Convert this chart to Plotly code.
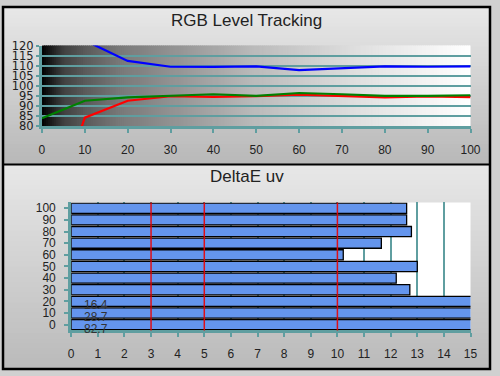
import plotly.graph_objects as go

# ---------------- data ----------------
levels = [0, 10, 20, 30, 40, 50, 60, 70, 80, 90, 100]
red_vals = [23.0, 84.3, 92.7, 94.9, 94.6, 94.9, 95.7, 95.1, 94.3, 94.8, 94.5]
green_vals = [84.0, 92.7, 94.3, 95.1, 95.9, 95.1, 96.5, 95.9, 95.1, 95.1, 95.4]
blue_vals = [135.0, 122.5, 112.4, 109.5, 109.4, 109.7, 107.8, 108.9, 109.7, 109.5, 109.7]

de_levels = [0, 10, 20, 30, 40, 50, 60, 70, 80, 90, 100]
de_vals = [82.7, 28.7, 16.4, 12.72, 12.21, 13.0, 10.22, 11.65, 12.78, 12.6, 12.6]
de_labels = {0: "82.7", 10: "28.7", 20: "16.4"}
threshold_lines = [3, 5, 10]

W, H = 500, 376
FONT = "Liberation Sans, Arial, sans-serif"
TEAL = "#5f9ea0"

def px_x(p):
    return p / W

def px_y(p):
    return 1 - p / H

def lerp(c1, c2, t):
    return tuple(int(round(a + (b - a) * t)) for a, b in zip(c1, c2))

def rgb(c):
    return "rgb(%d,%d,%d)" % c

fig = go.Figure()

# ---------------- traces ----------------
fig.add_trace(go.Scatter(x=levels, y=blue_vals, mode="lines",
                         line=dict(color="#0000ff", width=2.2), xaxis="x", yaxis="y",
                         showlegend=False, hoverinfo="skip"))
fig.add_trace(go.Scatter(x=levels, y=red_vals, mode="lines",
                         line=dict(color="#ff0000", width=2.2), xaxis="x", yaxis="y",
                         showlegend=False, hoverinfo="skip"))
fig.add_trace(go.Scatter(x=levels, y=green_vals, mode="lines",
                         line=dict(color="#008000", width=2.2), xaxis="x", yaxis="y",
                         showlegend=False, hoverinfo="skip"))

fig.add_trace(go.Bar(x=de_vals, y=de_levels, orientation="h",
                     marker=dict(color="#6495ed", line=dict(color="black", width=1.3)),
                     xaxis="x2", yaxis="y2", showlegend=False, hoverinfo="skip"))

shapes = []
# panel background gradients (paper)
def panel(y0, y1, ctop, cbot, n=40):
    for i in range(n):
        a = y0 + (y1 - y0) * i / n
        b = y0 + (y1 - y0) * (i + 1) / n
        c = lerp(ctop, cbot, (i + 0.5) / n)
        shapes.append(dict(type="rect", xref="paper", yref="paper",
                           x0=0, x1=1, y0=max(0, px_y(b) - 0.002), y1=px_y(a),
                           fillcolor=rgb(c), line=dict(width=0), layer="below"))

panel(0, 163, (232, 232, 232), (184, 184, 184))
panel(163, 376, (232, 232, 232), (186, 186, 186))

# top plot horizontal gradient black -> white
stops = [(0.0, 0), (0.05, 64), (0.1, 90), (0.18, 120), (0.5, 187), (0.75, 225), (1.0, 255)]
def gray_at(t):
    for (t0, g0), (t1, g1) in zip(stops[:-1], stops[1:]):
        if t0 <= t <= t1:
            return g0 + (g1 - g0) * (t - t0) / (t1 - t0)
    return 255

N = 220
for i in range(N):
    t0 = i / N
    t1 = (i + 1) / N
    g = int(round(gray_at((t0 + t1) / 2)))
    shapes.append(dict(type="rect", xref="x domain", yref="y domain",
                       x0=t0, x1=min(1, t1 + 0.003), y0=0, y1=1,
                       fillcolor=rgb((g, g, g)), line=dict(width=0), layer="below"))

# bottom plot white background
shapes.append(dict(type="rect", xref="x2 domain", yref="y2 domain",
                   x0=0, x1=1, y0=0, y1=1, fillcolor="white",
                   line=dict(width=0), layer="below"))

# threshold lines
for v in threshold_lines:
    shapes.append(dict(type="line", xref="x2", yref="y2 domain",
                       x0=v, x1=v, y0=0, y1=1,
                       line=dict(color="rgba(235,0,0,0.9)", width=1.5), layer="above"))

# borders
shapes.append(dict(type="line", xref="paper", yref="paper", x0=0, x1=1,
                   y0=px_y(163.5), y1=px_y(163.5), line=dict(color="black", width=2)))
shapes.append(dict(type="rect", xref="paper", yref="paper", x0=0, x1=1, y0=0, y1=1,
                   line=dict(color="black", width=2.5), fillcolor="rgba(0,0,0,0)"))

annotations = [
    dict(text="RGB Level Tracking", xref="paper", yref="paper", x=0.5, y=px_y(14),
         yanchor="middle", showarrow=False, font=dict(family=FONT, size=17, color="#222")),
    dict(text="DeltaE uv", xref="paper", yref="paper", x=0.5, y=px_y(176),
         yanchor="middle", showarrow=False, font=dict(family=FONT, size=17, color="#222")),
]
for lv, txt in de_labels.items():
    annotations.append(dict(text=txt, xref="x2", yref="y2", x=0.42, y=lv, yshift=-4,
                            xanchor="left", showarrow=False,
                            font=dict(family=FONT, size=12, color="#333")))

axis_font = dict(family=FONT, size=12, color="#222")
top_y_font = dict(family="DejaVu Sans, sans-serif", size=11.5, color="#222")

fig.update_layout(
    width=W, height=H,
    autosize=False,
    margin=dict(l=0, r=0, t=0, b=0),
    paper_bgcolor="#d0d0d0",
    plot_bgcolor="rgba(0,0,0,0)",
    shapes=shapes,
    annotations=annotations,
    bargap=0.13,
    xaxis=dict(domain=[px_x(40), px_x(480)], range=[0, 100], dtick=10,
               showgrid=False, zeroline=False, showline=True, linecolor=TEAL, linewidth=3,
               ticks="outside", ticklen=4, tickwidth=2, tickcolor=TEAL,
               tickfont=axis_font, ticklabelstandoff=6, anchor="y", fixedrange=True),
    yaxis=dict(domain=[px_y(124), px_y(40)], range=[80, 120], dtick=5,
               showgrid=True, gridcolor=TEAL, gridwidth=1.5, zeroline=False,
               showline=True, linecolor=TEAL, linewidth=3,
               ticks="outside", ticklen=3, tickwidth=2, tickcolor=TEAL,
               tickfont=top_y_font, ticklabelstandoff=0, anchor="x", fixedrange=True),
    xaxis2=dict(domain=[px_x(70), px_x(480)], range=[0, 15], dtick=1,
                showgrid=True, gridcolor=TEAL, gridwidth=1.5, zeroline=False,
                showline=True, linecolor=TEAL, linewidth=3,
                ticks="outside", ticklen=4, tickwidth=2, tickcolor=TEAL,
                tickfont=axis_font, ticklabelstandoff=6, anchor="y2", fixedrange=True),
    yaxis2=dict(domain=[px_y(336), px_y(203)], range=[-5, 105], dtick=10, tick0=0,
                showgrid=False, zeroline=False,
                showline=True, linecolor=TEAL, linewidth=3,
                ticks="outside", ticklen=4, tickwidth=2, tickcolor=TEAL,
                tickfont=axis_font, ticklabelstandoff=6, anchor="x2", fixedrange=True),
)

post = (
    "var s=document.createElement('style');"
    "s.textContent='html,body{margin:0!important;padding:0!important;overflow:hidden!important;"
    "width:500px;height:376px;}';"
    "document.head.appendChild(s);"
)
fig.write_html("out.html", config={"responsive": False, "displayModeBar": False},
               post_script=post)
